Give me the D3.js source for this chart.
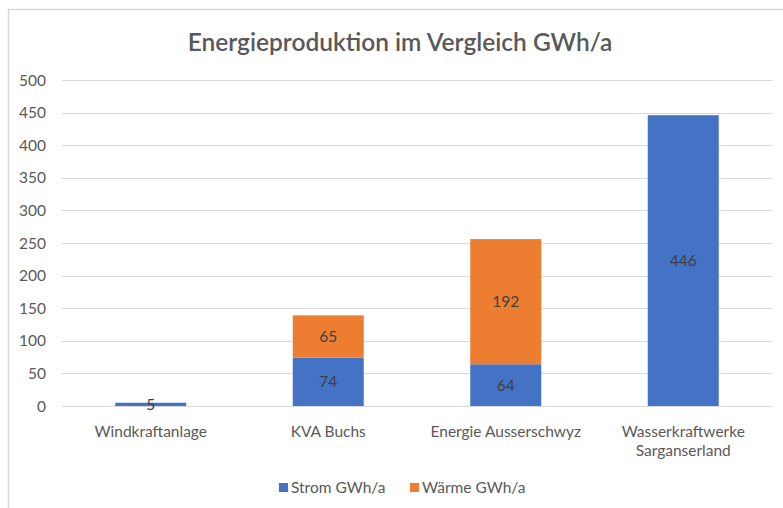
<!DOCTYPE html>
<html><head><meta charset="utf-8">
<script src="https://cdn.jsdelivr.net/npm/d3@7"></script>
<style>body{margin:0;background:#fff;} text{font-family:Lato,"Open Sans",sans-serif;}</style>
</head><body>
<svg id="chart" width="783" height="508"></svg>
<script>
const title = "Energieproduktion im Vergleich GWh/a";
const categories = ["Windkraftanlage", "KVA Buchs", "Energie Ausserschwyz", "Wasserkraftwerke\nSarganserland"];
const seriesNames = ["Strom GWh/a", "Wärme GWh/a"];
const strom = [5, 74, 64, 446];
const waerme = [0, 65, 192, 0];
const yTicks = [0, 50, 100, 150, 200, 250, 300, 350, 400, 450, 500];
const colors = ["#4472c4", "#ed7d31"];

const svg = d3.select("#chart");
svg.append("rect").attr("x", 8.5).attr("y", 9.5).attr("width", 800).attr("height", 600)
  .attr("fill", "#fff").attr("stroke", "#d9d9d9").attr("stroke-width", 1.5);

const x = d3.scaleBand().domain(categories).range([62, 772]).paddingInner(0.6).paddingOuter(0.3);
const y = d3.scaleLinear().domain([0, 500]).range([406, 80]);

svg.append("text").attr("x", 400).attr("y", 51).attr("text-anchor", "middle")
  .attr("font-size", 24.5).attr("font-weight", 600).attr("fill", "#595959").text(title);

const grid = svg.append("g");
grid.selectAll("line").data(yTicks).join("line")
  .attr("x1", 62).attr("x2", 772).attr("y1", d => Math.round(y(d)) + 0.5).attr("y2", d => Math.round(y(d)) + 0.5)
  .attr("stroke", "#d9d9d9").attr("stroke-width", 1);
grid.selectAll("text").data(yTicks).join("text")
  .attr("x", 46).attr("y", d => y(d) + 5.5).attr("text-anchor", "end")
  .attr("font-size", 15.5).attr("fill", "#595959").text(d => d);

const data = categories.map((c, i) => ({cat: c, strom: strom[i], waerme: waerme[i]}));
const stack = d3.stack().keys(["strom", "waerme"])(data);

stack.forEach((layer, li) => {
  const g = svg.append("g");
  g.selectAll("rect").data(layer).join("rect")
    .attr("x", d => x(d.data.cat)).attr("width", x.bandwidth())
    .attr("y", d => y(d[1])).attr("height", d => y(d[0]) - y(d[1]))
    .attr("fill", colors[li]);
  g.selectAll("text").data(layer.filter(d => d[1] - d[0] > 0)).join("text")
    .attr("x", d => x(d.data.cat) + x.bandwidth() / 2)
    .attr("y", d => (y(d[0]) + y(d[1])) / 2 + 5.5)
    .attr("text-anchor", "middle").attr("font-size", 15.5).attr("fill", "#404040")
    .text(d => d[1] - d[0]);
});

const xl = svg.append("g");
categories.forEach(c => {
  const t = xl.append("text").attr("x", x(c) + x.bandwidth() / 2).attr("y", 437)
    .attr("text-anchor", "middle").attr("font-size", 15.5).attr("fill", "#595959");
  c.split("\n").forEach((line, i) => {
    t.append("tspan").attr("x", x(c) + x.bandwidth() / 2).attr("dy", i ? 19 : 0).text(line);
  });
});

const legX = [279, 410];
const leg = svg.append("g");
seriesNames.forEach((s, i) => {
  leg.append("rect").attr("x", legX[i]).attr("y", 483).attr("width", 9).attr("height", 9).attr("fill", colors[i]);
  leg.append("text").attr("x", legX[i] + 12).attr("y", 493).attr("font-size", 15.5).attr("fill", "#595959").text(s);
});
</script>
</body></html>
